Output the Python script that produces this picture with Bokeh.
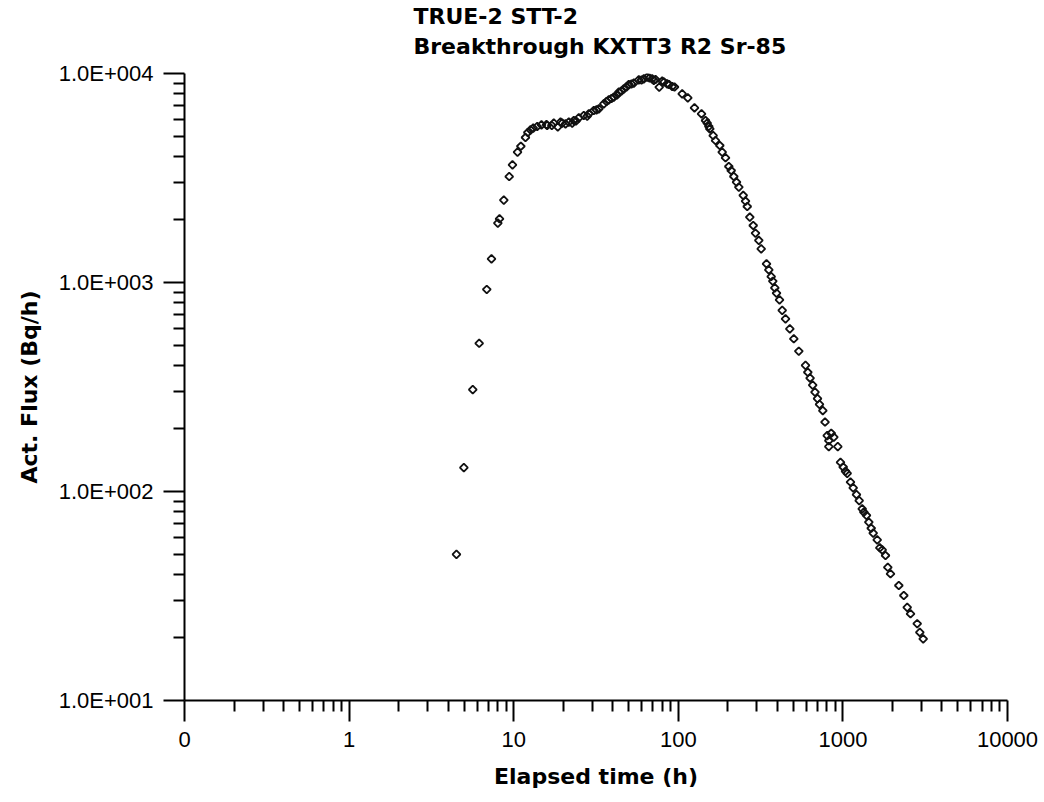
import math
from bokeh.plotting import figure
from bokeh.layouts import column
from bokeh.models import Range1d, FixedTicker
from bokeh.core.properties import value
from bokeh.embed import file_html
from bokeh.resources import INLINE

# Elapsed time (h) and activity flux (Bq/h)
time_h = [4.49, 4.98, 5.64, 6.17, 6.86, 7.33, 8.01, 8.20, 8.71, 9.39, 9.83,
          10.55, 11.05, 11.79, 12.18, 12.65, 13.14, 13.90, 14.75, 15.82, 15.97,
          17.04, 17.52, 18.53, 19.25, 19.71, 20.64, 21.62, 22.67, 23.18, 23.90,
          24.86, 26.66, 27.96, 28.60, 30.67, 31.84, 32.89, 35.27, 36.63, 37.82,
          39.29, 40.56, 42.42, 43.51, 45.17, 46.66, 48.44, 50.03, 51.95, 53.66,
          57.54, 59.76, 61.71, 64.71, 66.83, 69.40, 71.00, 72.69, 76.56, 79.84,
          81.86, 85.62, 87.80, 91.83, 94.83, 105.6, 114.2, 125.4, 138.4, 146.3,
          149.8, 153.2, 155.4, 162.9, 168.3, 178.7, 184.8, 193.6, 202.7, 209.6,
          217.4, 225.8, 233.2, 248.0, 256.1, 262.3, 271.9, 285.2, 294.4, 308.4,
          318.9, 343.5, 354.7, 366.8, 375.1, 385.8, 395.1, 412.0, 427.9, 448.1,
          475.9, 503.2, 539.7, 592.7, 612.1, 632.0, 655.4, 676.9, 701.0, 720.9,
          755.0, 778.7, 803.0, 849.2, 821.2, 880.6, 821.2, 931.1, 966.9, 1004,
          1037, 1062, 1112, 1155, 1209, 1256, 1310, 1340, 1391, 1437, 1486, 1528,
          1616, 1676, 1733, 1815, 1874, 1946, 2186, 2344, 2459, 2575, 2828, 2933,
          3075]
flux = [50, 130, 307, 512, 926, 1298, 1922, 2018, 2480, 3214, 3656,
        4202, 4487, 4941, 5221, 5378, 5474, 5578, 5683, 5690, 5640,
        5640, 5784, 5558, 5848, 5784, 5745, 5848, 5784, 5958, 5926,
        6138, 6296, 6250, 6416, 6653, 6705, 6779, 7161, 7345, 7486,
        7594, 7702, 7890, 8138, 8247, 8450, 8618, 8858, 8909, 8986,
        9330, 9309, 9433, 9600, 9517, 9433, 9259, 9361, 8597, 9187,
        9106, 8927, 8858, 8665, 8618, 7995, 7649, 6853, 6416, 5958,
        5784, 5578, 5438, 5050, 4779, 4524, 4202, 3952, 3589, 3435,
        3215, 3019, 2858, 2609, 2449, 2310, 2053, 1874, 1721, 1589,
        1449, 1229, 1150, 1068, 1014, 943, 889, 826, 735, 670,
        600, 538, 469, 401, 372, 349, 323, 299, 278, 261,
        244, 215, 185, 190, 175, 182, 164, 164, 138, 131,
        125, 122, 111, 104, 96.7, 90.5, 82.6, 79.6, 76.8, 71.3, 66.7, 63.2,
        58.7, 53.8, 52.6, 49.4, 43.4, 40.4, 35.5, 31.8, 27.9, 26.0, 23.3, 21.2,
        19.7]

x_ticks = [0.1, 1, 10, 100, 1000, 10000]
x_tick_labels = ["0", "1", "10", "100", "1000", "10000"]
y_ticks = [10, 100, 1000, 10000]
y_tick_labels = ["1.0E+001", "1.0E+002", "1.0E+003", "1.0E+004"]

title_lines = ["TRUE-2 STT-2", "Breakthrough KXTT3 R2 Sr-85"]
x_label = "Elapsed time (h)"
y_label = "Act. Flux (Bq/h)"

minor_x = [m * 10 ** k for k in range(-1, 4) for m in range(2, 10)]
minor_y = [m * 10 ** k for k in range(1, 4) for m in range(2, 10)]

LEFT, RIGHT = 184, 1007      # plot-area edges in the page (px)
STRIP = 60                   # height of the title strip
GAP = 13                     # border between title strip and plot area

# ---- title strip (pixel-space figure whose frame aligns with the chart's) ----
tf = figure(width=1044, height=STRIP, x_range=Range1d(LEFT, RIGHT),
            y_range=Range1d(STRIP, 0),
            output_backend="svg", toolbar_location=None,
            x_axis_location=None, y_axis_location=None,
            min_border_left=LEFT, min_border_right=1044 - RIGHT,
            min_border_top=0, min_border_bottom=0)
tf.outline_line_color = None
tf.xgrid.visible = False
tf.ygrid.visible = False
tf.background_fill_color = "white"
tf.border_fill_color = "white"
tf.text(x=[413, 413], y=[16, 46], text=title_lines,
        text_font=value("DejaVu Sans"), text_font_style="bold",
        text_font_size="22px", text_color="black",
        text_baseline="middle", text_align="left")

# ---- main chart ----
p = figure(width=1044, height=802 - STRIP, x_axis_type="log", y_axis_type="log",
           x_range=Range1d(0.1, 10000), y_range=Range1d(10, 10000),
           output_backend="svg", toolbar_location=None,
           min_border_left=LEFT, min_border_right=1044 - RIGHT,
           min_border_top=GAP, min_border_bottom=102)
p.outline_line_color = None
p.background_fill_color = "white"
p.border_fill_color = "white"
p.xgrid.visible = False
p.ygrid.visible = False

p.scatter(time_h, flux, marker="square", angle=math.pi / 4, size=5.6,
          fill_color="white", fill_alpha=0.0, line_color="#111111", line_width=1.8)

for ax in (p.xaxis[0], p.yaxis[0]):
    ax.axis_line_width = 2
    ax.axis_line_color = "black"
    ax.major_tick_in = 0
    ax.major_tick_out = 21
    ax.minor_tick_in = 0
    ax.minor_tick_out = 11
    ax.major_tick_line_width = 2
    ax.minor_tick_line_width = 2
    ax.major_tick_line_color = "black"
    ax.minor_tick_line_color = "black"
    ax.major_label_text_font = "Liberation Sans"
    ax.major_label_text_font_size = "22px"
    ax.major_label_text_color = "black"
    ax.axis_label_text_font = "DejaVu Sans"
    ax.axis_label_text_font_style = "bold"
    ax.axis_label_text_font_size = "22px"
    ax.axis_label_text_color = "black"

p.xaxis.ticker = FixedTicker(ticks=x_ticks, minor_ticks=minor_x)
p.xaxis.major_label_overrides = dict(zip(x_ticks, x_tick_labels))
p.xaxis.major_label_standoff = 10
p.xaxis.axis_label = x_label
p.xaxis.axis_label_standoff = 14

p.yaxis.ticker = FixedTicker(ticks=y_ticks, minor_ticks=minor_y)
p.yaxis.major_label_overrides = dict(zip(y_ticks, y_tick_labels))
p.yaxis.major_label_standoff = 10
p.yaxis.major_label_orientation = "horizontal"
p.yaxis.axis_label = y_label
p.yaxis.axis_label_standoff = 14

layout = column(tf, p, spacing=0)
open("out.html", "w").write(file_html(layout, INLINE))
